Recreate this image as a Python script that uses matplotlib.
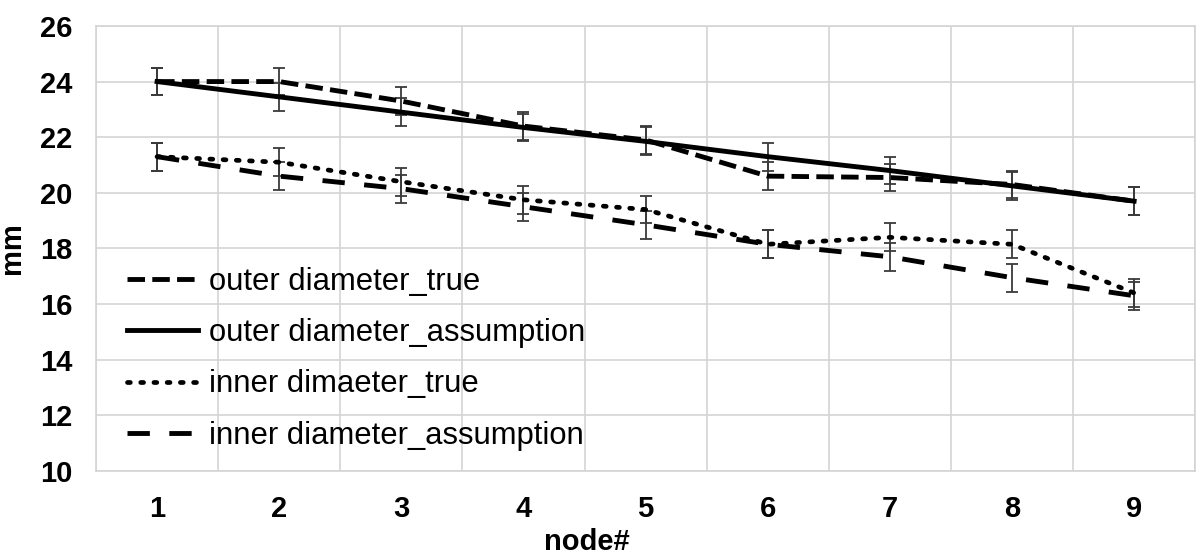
import matplotlib
matplotlib.use("Agg")
import matplotlib.pyplot as plt
import numpy as np

nodes = [1, 2, 3, 4, 5, 6, 7, 8, 9]
outer_true = [24.0, 24.0, 23.3, 22.4, 21.9, 20.6, 20.55, 20.3, 19.7]
outer_assump = [24.0, 23.45, 22.9, 22.35, 21.85, 21.3, 20.8, 20.25, 19.7]
inner_true = [21.3, 21.1, 20.4, 19.75, 19.4, 18.15, 18.4, 18.15, 16.4]
inner_assump = [21.3, 20.6, 20.15, 19.5, 18.85, 18.15, 17.7, 16.95, 16.3]
err = 0.5
labels = ["outer diameter_true", "outer diameter_assumption",
          "inner dimaeter_true", "inner diameter_assumption"]
yticks = [10, 12, 14, 16, 18, 20, 22, 24, 26]

plt.rcParams['font.family'] = ['Liberation Sans', 'DejaVu Sans']

fig = plt.figure(figsize=(12, 5.58), dpi=100)
ax = fig.add_axes([0.08, 0.156, 0.916, 0.7975])

x = np.array(nodes)
ecol = '#3a3a3a'
styles = [
    dict(ls=(0, (3.6, 1.5)), lw=3.5),
    dict(ls='-', lw=3.5),
    dict(ls=(0, (0.6, 2.2)), lw=3.4, dash_capstyle='round'),
    dict(ls=(0, (4.6, 4.0)), lw=3.5),
]
series = [outer_true, outer_assump, inner_true, inner_assump]
handles = []
for s, st, lab in zip(series, styles, labels):
    ax.errorbar(x, s, yerr=err, fmt='none', ecolor=ecol, elinewidth=1.3,
                capsize=4.5, capthick=1.3, zorder=3)
    kw = dict(st)
    ls = kw.pop('ls')
    h, = ax.plot(x, s, color='black', linestyle=ls, label=lab, zorder=4, **kw)
    handles.append(h)

ax.set_xlim(0.5, 9.5)
ax.set_ylim(10, 26)
ax.set_yticks(yticks)
ax.set_xticks(nodes)
ax.set_xticks(np.arange(0.5, 10, 1), minor=True)
ax.grid(False)
ax.yaxis.grid(True, color='#d4d4d4', lw=1.2)
ax.xaxis.grid(True, which='minor', color='#d4d4d4', lw=1.2)
ax.set_axisbelow(True)
ax.tick_params(axis='both', which='both', length=0, labelsize=21, pad=17)
for lab in ax.get_xticklabels() + ax.get_yticklabels():
    lab.set_fontweight('bold')
for sp in ax.spines.values():
    sp.set_color('#d4d4d4')
    sp.set_linewidth(1.2)

ax.set_ylabel('mm', fontsize=21, fontweight='bold')
ax.set_xlabel('node#', fontsize=21, fontweight='bold')
ax.yaxis.set_label_coords(-0.064, 0.5)
ax.xaxis.set_label_coords(0.447, -0.128)

leg = ax.legend(handles=handles, loc='center left', bbox_to_anchor=(0.028, 0.252),
                frameon=False, fontsize=22.3, handlelength=2.3, handletextpad=0.36,
                labelspacing=0.69, borderaxespad=0, borderpad=0)

fig.savefig('out.png', dpi=100)
